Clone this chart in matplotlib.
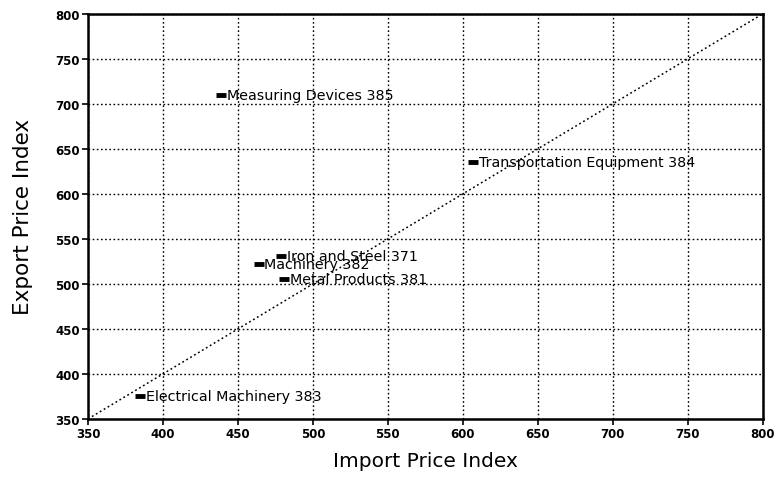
import numpy as np
import matplotlib
matplotlib.use('Agg')
import matplotlib.pyplot as plt

plt.rcParams['font.family'] = ['DejaVu Sans']

# points (import index, export index)
labels = ['Measuring Devices 385', 'Transportation Equipment 384', 'Iron and Steel 371',
          'Machinery 382', 'Metal Products 381', 'Electrical Machinery 383']
import_idx = [439, 607, 479, 464, 481, 385]
export_idx = [710, 636, 531, 522, 506, 375]

ticks = [350, 400, 450, 500, 550, 600, 650, 700, 750, 800]

fig = plt.figure(figsize=(7.79, 4.81), dpi=100)
ax = fig.add_axes([0.113, 0.127, 0.866, 0.842])

# diagonal y = x
ax.plot([350, 800], [350, 800], color='black', linestyle=(0, (1.2, 1.8)), linewidth=1.1)

ax.plot(import_idx, export_idx, linestyle='none', marker='_', markersize=7,
        markeredgewidth=3.5, color='black')
for x, y, lab in zip(import_idx, export_idx, labels):
    ax.annotate(lab, (x, y), xytext=(4, 0), textcoords='offset points',
                va='center', ha='left', fontsize=10.3)

ax.set_xlim(350, 800)
ax.set_ylim(350, 800)
ax.set_xticks(ticks)
ax.set_yticks(ticks)
ax.tick_params(labelsize=8.5, length=4, width=1.2, direction='out', pad=2)
for t in ax.get_xticklabels() + ax.get_yticklabels():
    t.set_fontweight('bold')
ax.grid(True, color='black', linestyle=(0, (1.2, 1.8)), linewidth=1.0)
for s in ax.spines.values():
    s.set_linewidth(1.8)

ax.set_xlabel('Import Price Index', fontsize=14.5, labelpad=8)
ax.set_ylabel('Export Price Index', fontsize=15.5, labelpad=16)

fig.savefig('out.png', dpi=100)
